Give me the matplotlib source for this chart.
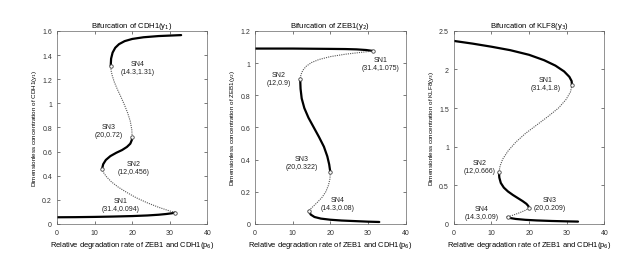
import numpy as np
from matplotlib import pyplot as plt

plt.rcParams['font.family'] = ['Liberation Sans', 'DejaVu Sans']

# --- CDH1 (y1) branches: stable / unstable pieces between saddle nodes
cdh1_s1_x = [0, 5, 10, 15, 20, 24, 27, 29, 30.5, 31.4]
cdh1_s1_y = [0.055, 0.056, 0.058, 0.061, 0.065, 0.070, 0.076, 0.082, 0.088, 0.094]
cdh1_u1_x = [31.4, 29.5, 27, 24, 21, 18.5, 16.3, 14.5, 13.2, 12.4, 12.0]
cdh1_u1_y = [0.094, 0.112, 0.138, 0.175, 0.218, 0.262, 0.305, 0.348, 0.390, 0.425, 0.456]
cdh1_s2_x = [12.0, 12.3, 13.0, 14.2, 15.8, 17.3, 18.6, 19.5, 19.9, 20.0]
cdh1_s2_y = [0.456, 0.495, 0.530, 0.562, 0.590, 0.612, 0.638, 0.665, 0.695, 0.720]
cdh1_u2_x = [20.0, 19.9, 19.5, 18.8, 17.9, 16.9, 16.0, 15.2, 14.7, 14.4, 14.3]
cdh1_u2_y = [0.720, 0.780, 0.850, 0.920, 0.990, 1.060, 1.120, 1.180, 1.230, 1.270, 1.310]
cdh1_s3_x = [14.3, 14.4, 14.8, 15.5, 16.5, 18.0, 20.0, 23.0, 27.0, 30.0, 33.0]
cdh1_s3_y = [1.310, 1.370, 1.420, 1.460, 1.490, 1.515, 1.533, 1.547, 1.557, 1.561, 1.565]

# --- ZEB1 (y2)
zeb1_s1_x = [0, 5, 10, 15, 20, 24, 27, 29.5, 31.4]
zeb1_s1_y = [1.090, 1.090, 1.090, 1.089, 1.088, 1.087, 1.085, 1.081, 1.075]
zeb1_u1_x = [31.4, 28, 24, 20, 17, 15, 13.6, 12.7, 12.2, 12.0]
zeb1_u1_y = [1.075, 1.066, 1.055, 1.040, 1.022, 1.003, 0.980, 0.955, 0.928, 0.900]
zeb1_s2_x = [12.0, 12.1, 12.4, 13.1, 14.2, 15.6, 17.0, 18.3, 19.2, 19.7, 20.0]
zeb1_s2_y = [0.900, 0.840, 0.780, 0.720, 0.660, 0.600, 0.540, 0.480, 0.420, 0.370, 0.322]
zeb1_u2_x = [20.0, 19.9, 19.5, 18.8, 17.8, 16.6, 15.5, 14.7, 14.3]
zeb1_u2_y = [0.322, 0.280, 0.240, 0.200, 0.165, 0.135, 0.110, 0.092, 0.080]
zeb1_s3_x = [14.3, 14.8, 15.8, 17.5, 20.0, 23.0, 27.0, 30.0, 33.0]
zeb1_s3_y = [0.080, 0.058, 0.043, 0.033, 0.026, 0.021, 0.017, 0.014, 0.012]

# --- KLF8 (y3)
klf8_s1_x = [0, 5, 10, 15, 20, 24, 27, 29.3, 30.7, 31.3, 31.4]
klf8_s1_y = [2.370, 2.335, 2.295, 2.250, 2.190, 2.120, 2.050, 1.975, 1.905, 1.850, 1.800]
klf8_u1_x = [31.4, 31.0, 29.8, 27.8, 25.0, 22.0, 19.0, 16.5, 14.5, 13.0, 12.3, 12.0]
klf8_u1_y = [1.800, 1.710, 1.610, 1.500, 1.390, 1.280, 1.170, 1.060, 0.950, 0.840, 0.750, 0.666]
klf8_s2_x = [12.0, 12.1, 12.5, 13.3, 14.4, 15.7, 17.0, 18.3, 19.3, 19.8, 20.0]
klf8_s2_y = [0.666, 0.600, 0.530, 0.470, 0.420, 0.375, 0.335, 0.295, 0.260, 0.232, 0.209]
klf8_u2_x = [20.0, 19.2, 18.0, 16.8, 15.7, 14.9, 14.3]
klf8_u2_y = [0.209, 0.180, 0.155, 0.132, 0.113, 0.099, 0.090]
klf8_s3_x = [14.3, 15.0, 16.5, 19.0, 22.0, 26.0, 30.0, 33.0]
klf8_s3_y = [0.090, 0.076, 0.064, 0.053, 0.045, 0.038, 0.033, 0.030]

# saddle-node points and their labels
cdh1_sn = [(31.4, 0.094), (12, 0.456), (20, 0.72), (14.3, 1.31)]
zeb1_sn = [(31.4, 1.075), (12, 0.9), (20, 0.322), (14.3, 0.08)]
klf8_sn = [(31.4, 1.8), (12, 0.666), (20, 0.209), (14.3, 0.09)]
cdh1_lbl = ['SN1\n(31.4,0.094)', 'SN2\n(12,0.456)', 'SN3\n(20,0.72)', 'SN4\n(14.3,1.31)']
zeb1_lbl = ['SN1\n(31.4,1.075)', 'SN2\n(12,0.9)', 'SN3\n(20,0.322)', 'SN4\n(14.3,0.08)']
klf8_lbl = ['SN1\n(31.4,1.8)', 'SN2\n(12,0.666)', 'SN3\n(20,0.209)', 'SN4\n(14.3,0.09)']

# label positions (data coords) -- set by eye
cdh1_pos = [(17, 0.157), (20.5, 0.465), (13.8, 0.775), (21.5, 1.295)]
zeb1_pos = [(33.4, 1.0), (6.3, 0.905), (12.3, 0.38), (22, 0.128)]
klf8_pos = [(24.5, 1.82), (6.8, 0.745), (25.5, 0.26), (7.3, 0.15)]

fig = plt.figure(figsize=(6.25, 2.55), dpi=100)
fs = 5.0

panels = [
    ('Bifurcation of CDH1(y$_1$)', 'Dimensionless concentration of CDH1(y$_1$)',
     [(cdh1_s1_x, cdh1_s1_y), (cdh1_s2_x, cdh1_s2_y), (cdh1_s3_x, cdh1_s3_y)],
     [(cdh1_u1_x, cdh1_u1_y), (cdh1_u2_x, cdh1_u2_y)],
     cdh1_sn, cdh1_lbl, cdh1_pos, (0, 1.6), np.arange(0, 1.61, 0.2), 0.091),
    ('Bifurcation of ZEB1(y$_2$)', 'Dimensionless concentration of ZEB1(y$_2$)',
     [(zeb1_s1_x, zeb1_s1_y), (zeb1_s2_x, zeb1_s2_y), (zeb1_s3_x, zeb1_s3_y)],
     [(zeb1_u1_x, zeb1_u1_y), (zeb1_u2_x, zeb1_u2_y)],
     zeb1_sn, zeb1_lbl, zeb1_pos, (0, 1.2), np.arange(0, 1.21, 0.2), 0.408),
    ('Bifurcation of KLF8(y$_3$)', 'Dimensionless concentration of KLF8(y$_3$)',
     [(klf8_s1_x, klf8_s1_y), (klf8_s2_x, klf8_s2_y), (klf8_s3_x, klf8_s3_y)],
     [(klf8_u1_x, klf8_u1_y), (klf8_u2_x, klf8_u2_y)],
     klf8_sn, klf8_lbl, klf8_pos, (0, 2.5), np.arange(0, 2.51, 0.5), 0.726),
]

for title, ylab, stable, unstable, sn, lbl, pos, ylim, yt, left in panels:
    ax = fig.add_axes([left, 0.118, 0.241, 0.757])
    for x, y in stable:
        ax.plot(x, y, color='black', lw=1.6, solid_capstyle='round')
    for x, y in unstable:
        ax.plot(x, y, color='#555555', lw=0.8, ls=(0, (1, 1)))
    for (px, py), t, (tx, ty) in zip(sn, lbl, pos):
        ax.plot(px, py, 'o', mfc='white', mec='#444444', ms=2.5, mew=0.6)
        ax.text(tx, ty, t, fontsize=fs, ha='center', va='center', color='#222222')
    ax.set_xlim(0, 40)
    ax.set_ylim(*ylim)
    ax.set_xticks([0, 10, 20, 30, 40])
    ax.set_yticks(yt)
    ax.set_yticklabels(['%g' % v for v in yt])
    ax.tick_params(direction='in', top=True, right=True, labelsize=fs,
                   length=2, width=0.5, colors='#444444', labelcolor='#333333')
    for s in ax.spines.values():
        s.set_linewidth(0.5)
        s.set_color('#666666')
    ax.set_title(title, fontsize=5.5, pad=3)
    ax.set_ylabel(ylab, fontsize=4.5, labelpad=2)
    ax.set_xlabel('Relative degradation rate of ZEB1 and CDH1(p$_6$)', fontsize=5.4, labelpad=2)

fig.savefig('out.png', dpi=100)
